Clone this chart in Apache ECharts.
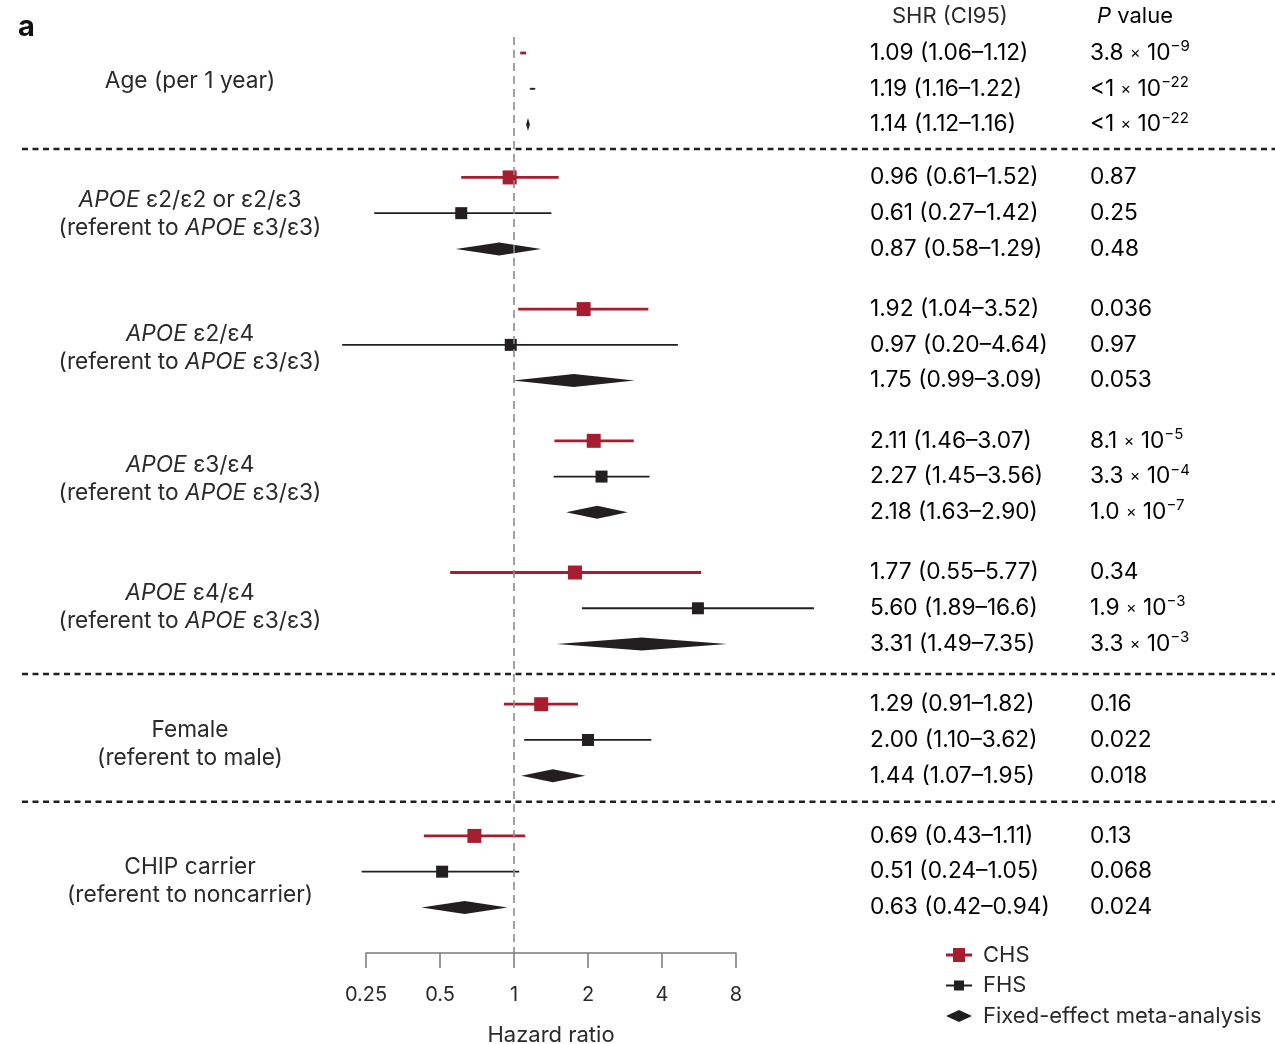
<!DOCTYPE html>
<html><head><meta charset="utf-8">
<script src="https://cdn.jsdelivr.net/npm/echarts@6/dist/echarts.min.js"></script>
<style>html,body{margin:0;padding:0;background:#fff}#c{width:1275px;height:1044px}</style>
</head><body><div id="c"></div>
<script>
// ---- data ----
const groupLabels = [
  'Age (per 1 year)',
  '{i|APOE} ε2/ε2 or ε2/ε3\n(referent to {i|APOE} ε3/ε3)',
  '{i|APOE} ε2/ε4\n(referent to {i|APOE} ε3/ε3)',
  '{i|APOE} ε3/ε4\n(referent to {i|APOE} ε3/ε3)',
  '{i|APOE} ε4/ε4\n(referent to {i|APOE} ε3/ε3)',
  'Female\n(referent to male)',
  'CHIP carrier\n(referent to noncarrier)'
];
const chsEst = [1.09, 0.96, 1.92, 2.11, 1.77, 1.29, 0.69];
const chsLo  = [1.06, 0.61, 1.04, 1.46, 0.55, 0.91, 0.43];
const chsHi  = [1.12, 1.52, 3.52, 3.07, 5.77, 1.82, 1.11];
const fhsEst = [1.19, 0.61, 0.97, 2.27, 5.60, 2.00, 0.51];
const fhsLo  = [1.16, 0.27, 0.20, 1.45, 1.89, 1.10, 0.24];
const fhsHi  = [1.22, 1.42, 4.64, 3.56, 16.6, 3.62, 1.05];
const metaEst = [1.14, 0.87, 1.75, 2.18, 3.31, 1.44, 0.63];
const metaLo  = [1.12, 0.58, 0.99, 1.63, 1.49, 1.07, 0.42];
const metaHi  = [1.16, 1.29, 3.09, 2.90, 7.35, 1.95, 0.94];
const chsP  = ['3.8 × 10^-9', '0.87', '0.036', '8.1 × 10^-5', '0.34', '0.16', '0.13'];
const fhsP  = ['<1 × 10^-22', '0.25', '0.97', '3.3 × 10^-4', '1.9 × 10^-3', '0.022', '0.068'];
const metaP = ['<1 × 10^-22', '0.48', '0.053', '1.0 × 10^-7', '3.3 × 10^-3', '0.018', '0.024'];
const xTicks = [0.25, 0.5, 1, 2, 4, 8];
const separatorsBefore = [1, 5, 6];
const legendNames = ['CHS', 'FHS', 'Fixed-effect meta-analysis'];

// ---- style / layout ----
const FONT = 'Inter, "Liberation Sans", Arial, sans-serif';
const TXT = '#2a2a2a';
const RED = '#a61d2f';
const BLK = '#231f20';
const FS = 22.7;
const GROUP_STEP = 3.684;
const FIRST_GAP_TRIM = 0.204;
const LABEL_NUDGE = [-8, 1, 3, 3, -1, 4, 10]; // px, vertical nudge of group labels
const SEP_NUDGE = [-2, 0, -4]; // px, vertical nudge of separators
function rowY(g, k) { return g * GROUP_STEP + k - (g > 0 ? FIRST_GAP_TRIM : 0); }
function fmt(v) { return v >= 10 ? v.toFixed(1) : v.toFixed(2); }
function shr(e, l, h) { return fmt(e) + ' (' + fmt(l) + '–' + fmt(h) + ')'; }
function pRich(p) {
  const parts = p.split(' × 10^');
  if (parts.length === 2) {
    return '{n|' + parts[0] + ' }{x|×}{n| 10}{s|' + parts[1].replace('-', '−') + '}';
  }
  return '{n|' + p + '}';
}
const richBase = {
  n: { fontSize: FS, fontFamily: FONT, color: TXT, lineHeight: 28 },
  x: { fontSize: 16, fontFamily: FONT, color: TXT, lineHeight: 28 },
  s: { fontSize: 15, fontFamily: FONT, color: TXT, lineHeight: 15, verticalAlign: 'top' },
  i: { fontSize: FS, fontFamily: FONT, color: TXT, fontStyle: 'italic', lineHeight: 28 }
};

const chsData = [], fhsData = [], metaData = [], textData = [];
for (let g = 0; g < groupLabels.length; g++) {
  chsData.push([chsLo[g], chsHi[g], chsEst[g], rowY(g, 0)]);
  fhsData.push([fhsLo[g], fhsHi[g], fhsEst[g], rowY(g, 1)]);
  metaData.push([metaLo[g], metaHi[g], metaEst[g], rowY(g, 2)]);
  textData.push([1, rowY(g, 0), shr(chsEst[g], chsLo[g], chsHi[g]), chsP[g]]);
  textData.push([1, rowY(g, 1), shr(fhsEst[g], fhsLo[g], fhsHi[g]), fhsP[g]]);
  textData.push([1, rowY(g, 2), shr(metaEst[g], metaLo[g], metaHi[g]), metaP[g]]);
}
const labelData = groupLabels.map((t, g) => [1, rowY(g, 1), t]);
const sepData = separatorsBefore.map(g => [1, (rowY(g - 1, 2) + rowY(g, 0)) / 2]);

function studyRender(size, lw, color) {
  return function (params, api) {
    const y = api.value(3);
    const lo = api.coord([api.value(0), y]);
    const hi = api.coord([api.value(1), y]);
    const c = api.coord([api.value(2), y]);
    const s = Math.min(size, (hi[0] - lo[0]) * 0.3);
    return { type: 'group', children: [
      { type: 'line', shape: { x1: lo[0], y1: lo[1], x2: hi[0], y2: hi[1] }, style: { stroke: color, lineWidth: lw } },
      { type: 'rect', shape: { x: c[0] - s / 2, y: c[1] - s / 2, width: s, height: s }, style: { fill: color } }
    ]};
  };
}
function diamondRender(params, api) {
  const y = api.value(3);
  const lo = api.coord([api.value(0), y]);
  const hi = api.coord([api.value(1), y]);
  const c = api.coord([api.value(2), y]);
  const h = 6.5;
  return { type: 'polygon', shape: { points: [[lo[0], lo[1]], [c[0], c[1] - h], [hi[0], hi[1]], [c[0], c[1] + h]] }, style: { fill: BLK } };
}
function textRender(params, api) {
  const y = api.coord([1, api.value(1)])[1];
  return { type: 'group', children: [
    { type: 'text', x: 870, y: y, style: { text: '{n|' + textData[params.dataIndex][2] + '}', rich: richBase, textAlign: 'left', textVerticalAlign: 'middle' } },
    { type: 'text', x: 1090, y: y, style: { text: pRich(textData[params.dataIndex][3]), rich: richBase, textAlign: 'left', textVerticalAlign: 'middle' } }
  ]};
}
function labelRender(params, api) {
  const y = api.coord([1, api.value(1)])[1] + LABEL_NUDGE[params.dataIndex];
  const t = labelData[params.dataIndex][2];
  return { type: 'text', x: 190, y: y, style: {
    text: t, fontSize: FS, fontFamily: FONT, fill: TXT, lineHeight: 28,
    rich: { i: richBase.i }, textAlign: 'center', textVerticalAlign: 'middle' } };
}
function sepRender(params, api) {
  const y = api.coord([1, api.value(1)])[1] + SEP_NUDGE[params.dataIndex];
  return { type: 'line', shape: { x1: 22, y1: y, x2: 1275, y2: y }, style: { stroke: BLK, lineWidth: 2.5, lineDash: [6, 4.5] } };
}

const chart = echarts.init(document.getElementById('c'), null, { renderer: 'canvas' });
chart.setOption({
  animation: false,
  backgroundColor: '#fff',
  grid: { left: 366, right: 539, top: 37, bottom: 91, outerBoundsMode: 'none', containLabel: false },
  xAxis: {
    type: 'log', logBase: 2, min: xTicks[0], max: xTicks[xTicks.length - 1], position: 'bottom',
    axisLine: { show: true, onZero: false, lineStyle: { color: '#7a7a7a', width: 1.5 } },
    axisTick: { show: true, length: 15, lineStyle: { color: '#7a7a7a', width: 1.5 } },
    axisLabel: { fontSize: 20, fontFamily: FONT, color: TXT, margin: 32, formatter: v => String(+v.toFixed(2)) },
    splitLine: { show: false },
    name: 'Hazard ratio', nameLocation: 'middle', nameGap: 71,
    nameTextStyle: { fontSize: 22, fontFamily: FONT, color: TXT }
  },
  yAxis: { type: 'value', inverse: true, min: -0.4476, max: 25.175, show: false },
  legend: {
    data: [
      { name: legendNames[0], icon: 'path://M0,5.6H7V0H19V5.6H26V8.4H19V14H7V8.4H0Z' },
      { name: legendNames[1], icon: 'path://M0,6.1H8V2H18V6.1H26V7.9H18V12H8V7.9H0Z' },
      { name: legendNames[2], icon: 'path://M0,7L13,1L26,7L13,13Z' }
    ],
    orient: 'vertical', left: 941, top: 939, itemWidth: 26, itemHeight: 14, itemGap: 8.5,
    textStyle: { fontSize: 22, fontFamily: FONT, color: TXT, lineHeight: 22, padding: [0, 0, 0, 6] },
    selectedMode: false
  },
  series: [
    { name: legendNames[0], type: 'custom', renderItem: studyRender(14, 2.8, RED), data: chsData,
      encode: { x: [0, 1, 2], y: 3 }, itemStyle: { color: RED }, clip: false, silent: true, z: 4 },
    { name: legendNames[1], type: 'custom', renderItem: studyRender(12, 1.8, BLK), data: fhsData,
      encode: { x: [0, 1, 2], y: 3 }, itemStyle: { color: BLK }, clip: false, silent: true, z: 4 },
    { name: legendNames[2], type: 'custom', renderItem: diamondRender, data: metaData,
      encode: { x: [0, 1, 2], y: 3 }, itemStyle: { color: BLK }, clip: false, silent: true, z: 4,
      markLine: { silent: true, symbol: 'none', label: { show: false },
        lineStyle: { color: '#8c8c8c', width: 1.6, type: [8, 5] }, data: [{ xAxis: 1 }] } },
    { name: 'text', type: 'custom', renderItem: textRender, data: textData, encode: { x: 0, y: 1 }, clip: false, silent: true },
    { name: 'labels', type: 'custom', renderItem: labelRender, data: labelData, encode: { x: 0, y: 1 }, clip: false, silent: true },
    { name: 'sep', type: 'custom', renderItem: sepRender, data: sepData, encode: { x: 0, y: 1 }, clip: false, silent: true, z: 3 }
  ],
  graphic: [
    { type: 'text', left: 18, top: 13, style: { text: 'a', fontSize: 29, fontWeight: 'bold', fontFamily: FONT, fill: '#111' } },
    { type: 'text', left: 892, top: 5, style: { text: 'SHR (CI95)', fontSize: 22, fontFamily: FONT, fill: TXT } },
    { type: 'text', left: 1097, top: 5, style: { text: '{i|P}{n| value}', rich: { i: { fontSize: 22, fontFamily: FONT, fontStyle: 'italic', color: TXT }, n: { fontSize: 22, fontFamily: FONT, color: TXT } } } }
  ]
});
</script>
</body></html>
